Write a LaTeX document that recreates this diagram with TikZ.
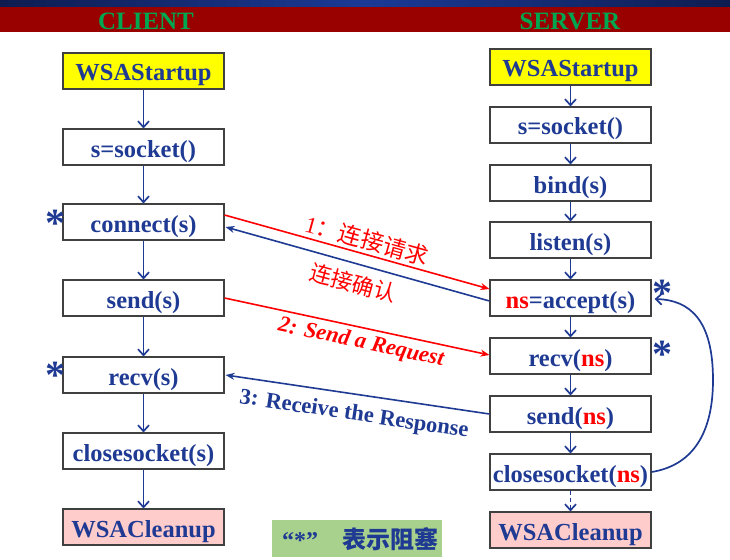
\documentclass[tikz,border=0pt]{standalone}
\usepackage{fontspec}
\setmainfont{Liberation Serif}
\newfontfamily\cjk{Noto Sans CJK SC}
\usetikzlibrary{arrows.meta,calc}
\definecolor{tblue}{RGB}{31,58,147}
\definecolor{hdrred}{RGB}{153,0,0}
\definecolor{hdrgreen}{RGB}{0,166,80}
\definecolor{navyA}{RGB}{14,28,80}
\definecolor{navyB}{RGB}{26,58,150}
\definecolor{boxyellow}{RGB}{255,255,0}
\definecolor{boxpink}{RGB}{255,204,204}
\definecolor{legendgreen}{RGB}{169,209,142}
\definecolor{bordergray}{RGB}{64,64,64}
\begin{document}
\begin{tikzpicture}[x=1pt,y=-1pt,
 fbox/.style={draw=bordergray, line width=1.1pt, minimum width=161pt, minimum height=36pt,
   inner sep=0pt, text=tblue, text height=20pt, text depth=0pt,
   font=\bfseries\fontsize{24.5}{28}\selectfont},
 flow/.style={draw=tblue, line width=1.7pt, -{Straight Barb[length=6pt,width=11pt]}},
 msgred/.style={draw=red, line width=1.6pt, -{Stealth[length=9pt,width=7pt]}},
 msgblue/.style={draw=tblue, line width=1.6pt, -{Stealth[length=9pt,width=7pt]}},
 blockstar/.style={text=tblue, font=\bfseries\fontsize{40}{40}\selectfont, inner sep=0pt},
 lblred/.style={text=red, inner sep=0pt},
 lblblue/.style={text=tblue, inner sep=0pt},
]
\useasboundingbox (0,0) rectangle (730,559);
% header
\shade[left color=navyA, right color=navyA, middle color=navyB] (0,0) rectangle (730,7);
\fill[hdrred] (0,7) rectangle (730,32);
\node[text=hdrgreen, font=\bfseries\fontsize{25}{25}\selectfont, inner sep=0pt] (tc) at (146,21) {CLIENT};
\node[text=hdrgreen, font=\bfseries\fontsize{25}{25}\selectfont, inner sep=0pt] (ts) at (570,21) {SERVER};

% client
\node[fbox, fill=boxyellow] (c1) at (143.5,71) {WSAStartup};
\node[fbox] (c2) at (143.5,147) {s=socket()};
\node[fbox] (c3) at (143.5,222) {connect(s)};
\node[fbox] (c4) at (143.5,298) {send(s)};
\node[fbox] (c5) at (143.5,375) {recv(s)};
\node[fbox] (c6) at (143.5,451) {closesocket(s)};
\node[fbox, fill=boxpink] (c7) at (143.5,527) {WSACleanup};
\foreach \a/\b in {c1/c2,c2/c3,c3/c4,c4/c5,c5/c6,c6/c7}
  \draw[flow] (\a.south) -- (\b.north);

% server
\node[fbox, fill=boxyellow] (s1) at (570.5,67) {WSAStartup};
\node[fbox] (s2) at (570.5,125) {s=socket()};
\node[fbox] (s3) at (570.5,183) {bind(s)};
\node[fbox] (s4) at (570.5,240) {listen(s)};
\node[fbox] (s5) at (570.5,298) {\textcolor{red}{ns}=accept(s)};
\node[fbox] (s6) at (570.5,356) {recv(\textcolor{red}{ns})};
\node[fbox] (s7) at (570.5,414) {send(\textcolor{red}{ns})};
\node[fbox] (s8) at (570.5,472) {closesocket(\textcolor{red}{ns})};
\node[fbox, fill=boxpink] (s9) at (570.5,530) {WSACleanup};
\foreach \a/\b in {s1/s2,s2/s3,s3/s4,s4/s5,s5/s6,s6/s7,s7/s8}
  \draw[flow] (\a.south) -- (\b.north);
\draw[flow, dash pattern=on 4pt off 3pt] (s8.south) -- (s9.north);

% loop
\draw[flow] (s8.east) .. controls (695,465) and (713,430) .. (713,380)
   .. controls (713,320) and (690,300) .. ($(s5.east)+(3,1)$);

% messages
\draw[msgred] ($(c3.east)+(0,-7)$) -- ($(s5.west)+(0,-9)$);
\draw[msgblue] ($(s5.west)+(0,3)$) -- ($(c3.east)+(1,5)$);
\draw[msgred] (c4.east) -- ($(s6.west)+(0,-1)$);
\draw[msgblue] (s7.west) -- ($(c5.east)+(1,0)$);

\node[lblred, rotate=-15.5, font=\fontsize{23}{23}\selectfont] (l1) at (367,240) {1\cjk：连接请求};
\node[lblred, rotate=-15, font=\cjk\fontsize{22}{22}\selectfont] (l2) at (353,283) {连接确认};
\node[lblred, rotate=-12, font=\bfseries\itshape\fontsize{22.5}{22.5}\selectfont] (l3) at (361,343) {2: Send a Request};
\node[lblblue, rotate=-8.5, font=\bfseries\fontsize{22.5}{22.5}\selectfont] (l4) at (354,415) {3: Receive the Response};

% stars
\node[blockstar] (st1) at (55,223) {*};
\node[blockstar] (st2) at (55,375) {*};
\node[blockstar] (st3) at (662,293) {*};
\node[blockstar] (st4) at (662,354) {*};

% legend
\fill[legendgreen] (272,520) rectangle (442,557);
\node[text=tblue, inner sep=0pt] (lg) at (360,539) {\bfseries\fontsize{24}{24}\selectfont “*”\quad{\cjk 表示阻塞}};
\end{tikzpicture}
\end{document}
